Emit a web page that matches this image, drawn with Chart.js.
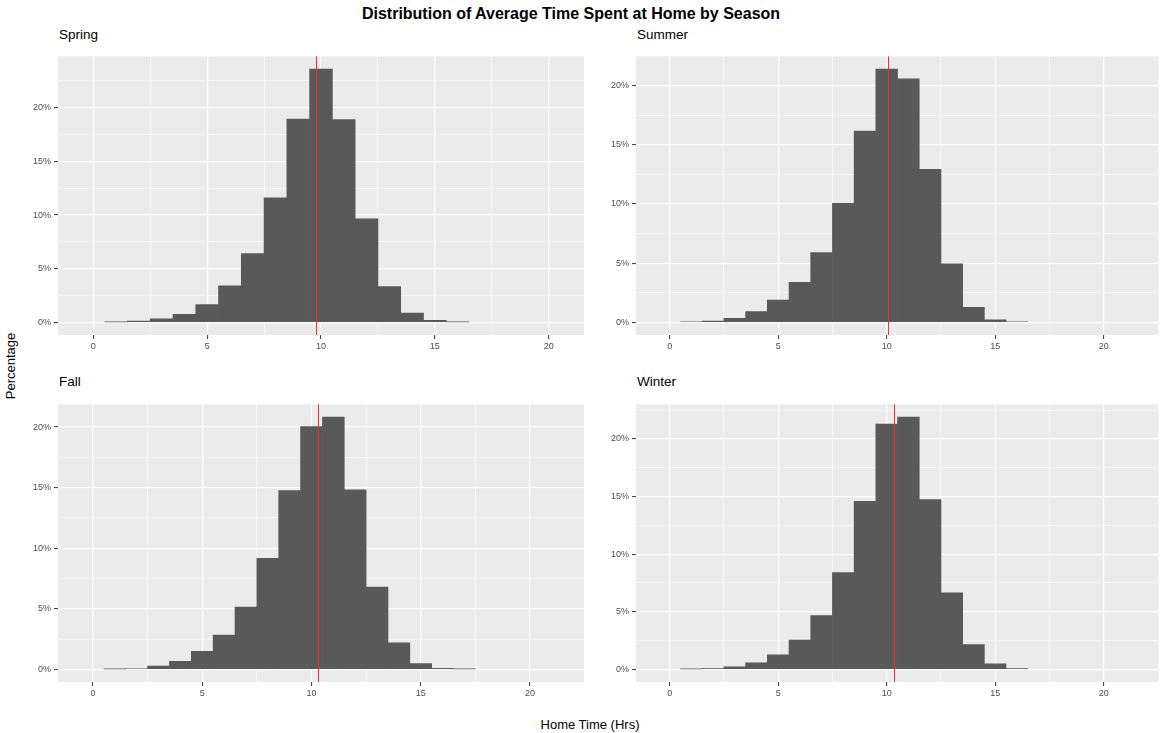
<!DOCTYPE html>
<html>
<head>
<meta charset="utf-8">
<script src="https://cdn.jsdelivr.net/npm/chart.js@4.4.1/dist/chart.umd.min.js"></script>
<style>
  body { margin: 0; background: #fff; font-family: 'Liberation Sans', Arial, sans-serif; }
  #page { position: relative; width: 1163px; height: 733px; overflow: hidden; }
  .txt { position: absolute; white-space: nowrap; color: #000; line-height: 16px; }
  .strip { font-size: 13.5px; }
  canvas { position: absolute; }
</style>
</head>
<body>
<div id="page">
  <div class="txt" style="left:571px;top:6px;font-size:16px;font-weight:bold;transform:translateX(-50%);">Distribution of Average Time Spent at Home by Season</div>
  <div class="txt" style="left:590px;top:717px;font-size:13px;transform:translateX(-50%);">Home Time (Hrs)</div>
  <div class="txt" style="left:11px;top:366px;font-size:13px;transform:translate(-50%,-50%) rotate(-90deg);">Percentage</div>
</div>
<script>
// histogram bins are 1 hour wide, centred on whole hours
const binCenters = [1, 2, 3, 4, 5, 6, 7, 8, 9, 10, 11, 12, 13, 14, 15, 16, 17];

// percentage of people in each bin
const springPct = [0.05, 0.12, 0.33, 0.75, 1.66, 3.4, 6.4, 11.6, 18.95, 23.6, 18.9, 9.64, 3.34, 0.87, 0.18, 0.05];
const summerPct = [0.05, 0.1, 0.33, 0.9, 1.89, 3.39, 5.9, 10.05, 16.15, 21.4, 20.57, 12.92, 4.95, 1.26, 0.22, 0.05];
const fallPct   = [0.03, 0.05, 0.27, 0.67, 1.49, 2.83, 5.15, 9.17, 14.75, 20.05, 20.83, 14.83, 6.8, 2.19, 0.48, 0.08, 0.03];
const winterPct = [0.03, 0.06, 0.22, 0.56, 1.26, 2.55, 4.66, 8.39, 14.59, 21.29, 21.9, 14.73, 6.65, 2.16, 0.48, 0.06];

const seasonNames = ['Spring', 'Summer', 'Fall', 'Winter'];
const seasonMeans = [9.8, 10.04, 10.29, 10.35];

// panel boxes in page pixels and x range of each panel
const panels = [
  { values: springPct, left: 58,  top: 48,  right: 584,  bottom: 335, xMin: -1.55, xMax: 21.55, stripTop: 27 },
  { values: summerPct, left: 636, top: 48,  right: 1160, bottom: 335, xMin: -1.55, xMax: 22.55, stripTop: 27 },
  { values: fallPct,   left: 58,  top: 396, right: 584,  bottom: 682, xMin: -1.6,  xMax: 22.47, stripTop: 374 },
  { values: winterPct, left: 636, top: 396, right: 1160, bottom: 682, xMin: -1.55, xMax: 22.55, stripTop: 374 }
];

const Y_AXIS_W = 40;
const X_AXIS_H = 22;
const FONT = "'Liberation Sans', Arial, sans-serif";

// grey panel background behind the grid
const panelBg = {
  id: 'panelBg',
  beforeDraw(chart) {
    const a = chart.chartArea, ctx = chart.ctx;
    ctx.save();
    ctx.fillStyle = '#EBEBEB';
    ctx.fillRect(a.left, a.top, a.right - a.left, a.bottom - a.top);
    ctx.restore();
  }
};

// red vertical line at the season mean
const meanLine = {
  id: 'meanLine',
  afterDatasetsDraw(chart, args, opts) {
    const a = chart.chartArea, ctx = chart.ctx;
    const x = Math.round(chart.scales.x.getPixelForValue(opts.value)) + 0.5;
    ctx.save();
    ctx.strokeStyle = '#FF2A1A';
    ctx.lineWidth = 1;
    ctx.beginPath();
    ctx.moveTo(x, a.top);
    ctx.lineTo(x, a.bottom);
    ctx.stroke();
    ctx.restore();
  }
};

const isMajor = v => Math.abs(v % 5) < 1e-9;

const page = document.getElementById('page');

panels.forEach((p, i) => {
  const strip = document.createElement('div');
  strip.className = 'txt strip';
  strip.style.left = (p.left + 1) + 'px';
  strip.style.top = p.stripTop + 'px';
  strip.textContent = seasonNames[i];
  page.appendChild(strip);

  const canvas = document.createElement('canvas');
  const w = p.right - p.left + Y_AXIS_W;
  const h = p.bottom - p.top + X_AXIS_H;
  canvas.width = w;
  canvas.height = h;
  canvas.style.left = (p.left - Y_AXIS_W) + 'px';
  canvas.style.top = p.top + 'px';
  canvas.style.width = w + 'px';
  canvas.style.height = h + 'px';
  page.appendChild(canvas);

  const yTop = Math.max(...p.values);

  new Chart(canvas, {
    type: 'bar',
    data: {
      datasets: [{
        data: p.values.map((v, k) => ({ x: binCenters[k], y: v })),
        backgroundColor: '#595959',
        borderWidth: 0,
        barPercentage: 1,
        categoryPercentage: 1
      }]
    },
    options: {
      responsive: false,
      animation: false,
      devicePixelRatio: 1,
      layout: { autoPadding: false, padding: 0 },
      plugins: {
        legend: { display: false },
        tooltip: { enabled: false },
        meanLine: { value: seasonMeans[i] }
      },
      scales: {
        x: {
          type: 'linear',
          offset: false,
          min: p.xMin,
          max: p.xMax,
          border: { display: false },
          grid: {
            offset: false,
            color: '#FFFFFF',
            lineWidth: c => isMajor(c.tick.value) ? 1.2 : 0.6,
            tickColor: c => isMajor(c.tick.value) ? '#333333' : 'rgba(0,0,0,0)',
            tickLength: 4,
            tickWidth: 1
          },
          ticks: {
            stepSize: 2.5,
            includeBounds: false,
            autoSkip: false,
            maxRotation: 0,
            padding: 2,
            color: '#4D4D4D',
            font: { family: FONT, size: 9 },
            callback: v => isMajor(v) ? String(v) : ''
          },
          afterFit: s => { s.height = X_AXIS_H; }
        },
        y: {
          min: -0.05 * yTop,
          max: 1.05 * yTop,
          border: { display: false },
          grid: {
            color: '#FFFFFF',
            lineWidth: c => isMajor(c.tick.value) ? 1.2 : 0.6,
            tickColor: c => isMajor(c.tick.value) ? '#333333' : 'rgba(0,0,0,0)',
            tickLength: 4,
            tickWidth: 1
          },
          ticks: {
            stepSize: 2.5,
            includeBounds: false,
            autoSkip: false,
            padding: 3,
            color: '#4D4D4D',
            font: { family: FONT, size: 9 },
            callback: v => isMajor(v) ? v + '%' : ''
          },
          afterFit: s => { s.width = Y_AXIS_W; }
        }
      }
    },
    plugins: [panelBg, meanLine]
  });
});
</script>
</body>
</html>
